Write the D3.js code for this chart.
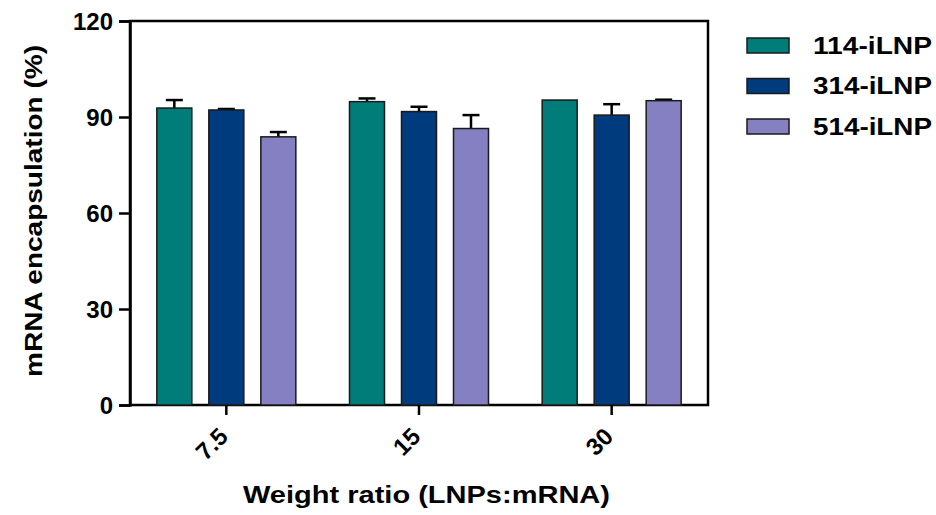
<!DOCTYPE html>
<html><head><meta charset="utf-8">
<script src="https://cdn.jsdelivr.net/npm/d3@7"></script>
<style>body{margin:0;background:#fff}svg{display:block}text{font-family:"Liberation Sans",Arial,sans-serif;font-weight:bold}</style>
</head><body>
<script>
const categories = ["7.5", "15", "30"];
const seriesNames = ["114-iLNP", "314-iLNP", "514-iLNP"];
const values114 = [92.8, 94.8, 95.3];
const values314 = [92.2, 91.7, 90.6];
const values514 = [83.8, 86.4, 95.1];
const err114 = [2.5, 1.0, 0.0];
const err314 = [0.3, 1.5, 3.4];
const err514 = [1.5, 4.2, 0.3];
const yTicks = [0, 30, 60, 90, 120];
const colors = ["#007D79", "#003B7E", "#8480C1"];

const W = 936, H = 515;
const svg = d3.select("body").append("svg").attr("width", W).attr("height", H);

const x = d3.scaleBand().domain(categories).range([130, 708]).padding(0);
const y = d3.scaleLinear().domain([0, 120]).range([405, 21]);
const inner = d3.scaleBand().domain(seriesNames).range([-69.5, 69.5]).paddingInner(0.327).paddingOuter(0);

const allVals = [values114, values314, values514];
const allErr = [err114, err314, err514];
const data = [];
seriesNames.forEach((s, si) => categories.forEach((c, ci) => data.push({s, si, c, v: allVals[si][ci], e: allErr[si][ci]})));

// frame
svg.append("rect").attr("x", x.range()[0]).attr("y", y(120)).attr("width", x.range()[1] - x.range()[0]).attr("height", y(0) - y(120))
  .attr("fill", "none").attr("stroke", "#000").attr("stroke-width", 2.5);

// error bars
const eg = svg.append("g");
data.forEach(d => {
  if (d.e <= 0) return;
  const cx = x(d.c) + x.bandwidth() / 2 + inner(d.s) + inner.bandwidth() / 2;
  eg.append("line").attr("x1", cx).attr("x2", cx).attr("y1", y(d.v)).attr("y2", y(d.v + d.e)).attr("stroke", "#000").attr("stroke-width", 2.5);
  eg.append("line").attr("x1", cx - 8.5).attr("x2", cx + 8.5).attr("y1", y(d.v + d.e)).attr("y2", y(d.v + d.e)).attr("stroke", "#000").attr("stroke-width", 2.5);
});

// bars
svg.append("g").selectAll("rect").data(data).join("rect")
  .attr("x", d => x(d.c) + x.bandwidth() / 2 + inner(d.s))
  .attr("width", inner.bandwidth())
  .attr("y", d => y(d.v))
  .attr("height", d => y(0) - y(d.v))
  .attr("fill", d => colors[d.si])
  .attr("stroke", "#1a1a1a").attr("stroke-width", 1.5);

// y axis
const ya = svg.append("g").attr("transform", `translate(130,0)`)
  .call(d3.axisLeft(y).tickValues(yTicks).tickSize(11).tickPadding(6));
ya.select(".domain").attr("stroke-width", 2.5);
ya.selectAll(".tick line").attr("stroke-width", 2.5);
ya.selectAll(".tick text").attr("font-size", 24).attr("fill", "#000").attr("dy", "0.36em");

// x axis
const xa = svg.append("g").attr("transform", `translate(0,${y(0)})`)
  .call(d3.axisBottom(x).tickSize(10).tickSizeOuter(0));
xa.select(".domain").remove();
xa.selectAll(".tick line").attr("stroke-width", 2.5);
xa.selectAll(".tick text").attr("font-size", 24).attr("fill", "#000")
  .attr("text-anchor", "end").attr("dy", 0).attr("y", 0)
  .attr("transform", "translate(3,33) rotate(-45)");

// axis titles
svg.append("text").attr("x", 426.5).attr("y", 503).attr("text-anchor", "middle").attr("font-size", 24)
  .attr("textLength", 367).attr("lengthAdjust", "spacingAndGlyphs").text("Weight ratio (LNPs:mRNA)");
svg.append("text").attr("transform", "translate(42,211) rotate(-90)").attr("text-anchor", "middle").attr("font-size", 24)
  .attr("textLength", 332).attr("lengthAdjust", "spacingAndGlyphs").text("mRNA encapsulation (%)");

// legend
const lg = svg.append("g");
seriesNames.forEach((s, i) => {
  const cy = 45.5 + i * 40.5;
  lg.append("rect").attr("x", 747).attr("y", cy - 7.5).attr("width", 42).attr("height", 15)
    .attr("fill", colors[i]).attr("stroke", "#1a1a1a").attr("stroke-width", 1.5);
  lg.append("text").attr("x", 813).attr("y", cy + 8).attr("font-size", 23)
    .attr("textLength", 119).attr("lengthAdjust", "spacingAndGlyphs").text(s);
});
</script>
</body></html>
